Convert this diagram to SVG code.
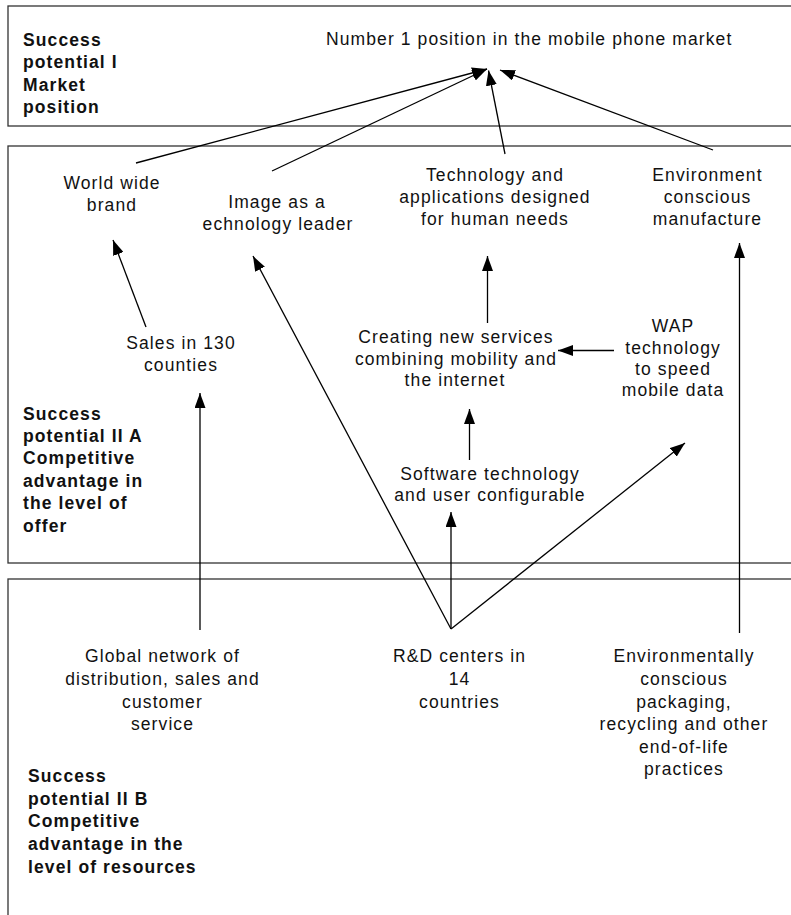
<svg xmlns="http://www.w3.org/2000/svg" width="791" height="915" viewBox="0 0 791 915">
  <style>
    .band { fill: none; stroke: #333; stroke-width: 1.3; }
    text { font-family: "Liberation Sans", Arial, sans-serif; font-size: 17.5px; letter-spacing: 1.1px; fill: #111; }
    .lvl { font-weight: bold; }
    .c { text-anchor: middle; }
    .link { fill: none; stroke: #000; stroke-width: 1.3; marker-end: url(#arrow); }
  </style>
  <defs>
    <marker id="arrow" viewBox="0 0 15 11" refX="15" refY="5.5" markerWidth="15" markerHeight="11" markerUnits="userSpaceOnUse" orient="auto">
      <path d="M0,0 L15,5.5 L0,11 z" fill="#000"/>
    </marker>
  </defs>

  <!-- level bands -->
  <g id="bands">
    <rect class="band" x="8" y="6" width="800" height="120"/>
    <rect class="band" x="8" y="146" width="800" height="417"/>
    <rect class="band" x="8" y="579" width="800" height="400"/>
  </g>

  <!-- level captions -->
  <g id="level-1">
    <text class="lvl" x="23" y="46">Success</text>
    <text class="lvl" x="23" y="68">potential I</text>
    <text class="lvl" x="23" y="90.5">Market</text>
    <text class="lvl" x="23" y="112.5">position</text>
  </g>
  <g id="level-2a">
    <text class="lvl" x="23" y="419.5">Success</text>
    <text class="lvl" x="23" y="442">potential II A</text>
    <text class="lvl" x="23" y="464">Competitive</text>
    <text class="lvl" x="23" y="486.5">advantage in</text>
    <text class="lvl" x="23" y="509">the level of</text>
    <text class="lvl" x="23" y="531.5">offer</text>
  </g>
  <g id="level-2b">
    <text class="lvl" x="28" y="781.5">Success</text>
    <text class="lvl" x="28" y="804.5">potential II B</text>
    <text class="lvl" x="28" y="827">Competitive</text>
    <text class="lvl" x="28" y="850">advantage in the</text>
    <text class="lvl" x="28" y="872.5">level of resources</text>
  </g>

  <!-- connectors -->
  <g id="connectors">
    <line class="link" x1="136" y1="163" x2="487" y2="69"/>
    <line class="link" x1="272" y1="171" x2="487" y2="69"/>
    <line class="link" x1="505" y1="154" x2="488.5" y2="70.5"/>
    <line class="link" x1="713" y1="150" x2="500" y2="70"/>
    <line class="link" x1="146" y1="327" x2="113" y2="240"/>
    <line class="link" x1="200" y1="630" x2="200" y2="393"/>
    <line class="link" x1="451" y1="629" x2="253" y2="256"/>
    <line class="link" x1="451" y1="629" x2="451" y2="512"/>
    <line class="link" x1="451" y1="629" x2="685" y2="443"/>
    <line class="link" x1="469.5" y1="460" x2="469.5" y2="409"/>
    <line class="link" x1="487.5" y1="323" x2="487.5" y2="256"/>
    <line class="link" x1="614" y1="350.5" x2="558" y2="350.5"/>
    <line class="link" x1="739.5" y1="633" x2="739.5" y2="243"/>
  </g>

  <!-- nodes -->
  <g id="market-position">
    <text x="326" y="45">Number 1 position in the mobile phone market</text>
  </g>
  <g id="world-wide-brand">
    <text class="c" x="112" y="189">World wide</text>
    <text class="c" x="112" y="211">brand</text>
  </g>
  <g id="technology-leader">
    <text class="c" x="277" y="208">Image as a</text>
    <text class="c" x="278" y="230">echnology leader</text>
  </g>
  <g id="human-needs">
    <text class="c" x="495" y="181">Technology and</text>
    <text class="c" x="495" y="203">applications designed</text>
    <text class="c" x="495" y="225">for human needs</text>
  </g>
  <g id="environment-manufacture">
    <text class="c" x="707.5" y="181">Environment</text>
    <text class="c" x="707.5" y="203">conscious</text>
    <text class="c" x="707.5" y="225">manufacture</text>
  </g>
  <g id="sales">
    <text class="c" x="181" y="349">Sales in 130</text>
    <text class="c" x="181" y="371">counties</text>
  </g>
  <g id="new-services">
    <text class="c" x="456" y="343">Creating new services</text>
    <text class="c" x="456" y="364.5">combining mobility and</text>
    <text class="c" x="455" y="386">the internet</text>
  </g>
  <g id="wap">
    <text class="c" x="673" y="332">WAP</text>
    <text class="c" x="673" y="353.5">technology</text>
    <text class="c" x="673" y="375">to speed</text>
    <text class="c" x="673" y="396">mobile data</text>
  </g>
  <g id="software">
    <text class="c" x="490" y="479.5">Software technology</text>
    <text class="c" x="490" y="501">and user configurable</text>
  </g>
  <g id="global-network">
    <text class="c" x="162.5" y="662">Global network of</text>
    <text class="c" x="162.5" y="684.5">distribution, sales and</text>
    <text class="c" x="162.5" y="707.5">customer</text>
    <text class="c" x="162.5" y="729.5">service</text>
  </g>
  <g id="rd-centers">
    <text class="c" x="459.5" y="662">R&amp;D centers in</text>
    <text class="c" x="459.5" y="685">14</text>
    <text class="c" x="459.5" y="707.5">countries</text>
  </g>
  <g id="environment-packaging">
    <text class="c" x="684" y="662">Environmentally</text>
    <text class="c" x="684" y="684.5">conscious</text>
    <text class="c" x="684" y="707.5">packaging,</text>
    <text class="c" x="684" y="730">recycling and other</text>
    <text class="c" x="684" y="752.5">end-of-life</text>
    <text class="c" x="684" y="775">practices</text>
  </g>
</svg>
